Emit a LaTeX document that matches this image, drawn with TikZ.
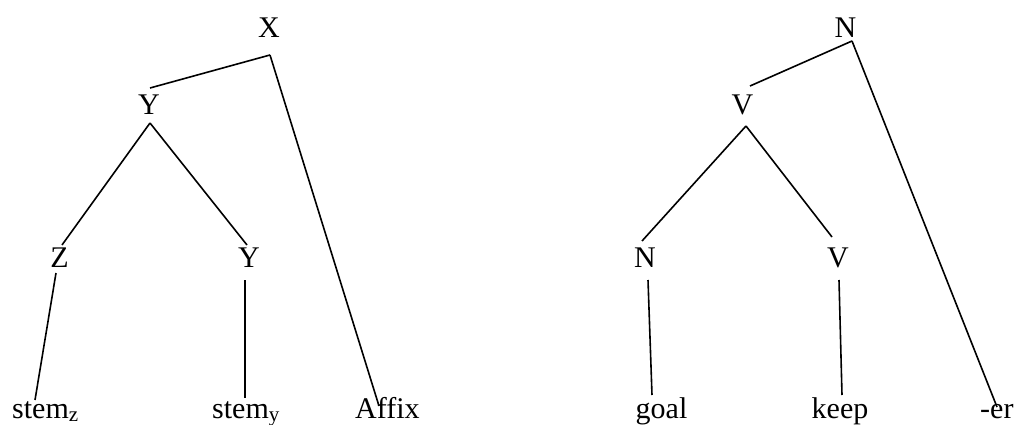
\documentclass[tikz,border=0pt]{standalone}
\usepackage{fontspec}
\setmainfont{Liberation Serif}
\usetikzlibrary{calc}
\begin{document}
\begin{tikzpicture}[x=1pt,y=-1pt,
  lbl/.style={inner sep=0pt,font=\fontsize{30}{32}\selectfont},
  edge/.style={line width=1.6pt,line cap=butt}]
\useasboundingbox (0,0) rectangle (1015,425);
% left tree
\node[lbl,anchor=base] (X) at (269,38) {X};
\node[lbl,anchor=base] (Y1) at (149,115) {Y};
\node[lbl,anchor=base] (Z) at (59.5,267) {Z};
\node[lbl,anchor=base] (Y2) at (249,267) {Y};
\node[lbl,anchor=base west] (sz) at (12,418) {stem\textsubscript{z}};
\node[lbl,anchor=base west] (sy) at (212,418) {stem\textsubscript{y}};
\node[lbl,anchor=base west] (af) at (355,418) {Affix};
% right tree
\node[lbl,anchor=base] (N) at (845.5,38) {N};
\node[lbl,anchor=base] (V) at (742.5,115) {V};
\node[lbl,anchor=base] (N2) at (645,267) {N};
\node[lbl,anchor=base] (V2) at (838,267) {V};
\node[lbl,anchor=base] (goal) at (661.5,418) {goal};
\node[lbl,anchor=base] (keep) at (840,418) {keep};
\node[lbl,anchor=base west] (er) at (980,418) {-er};
% connectors left
\draw[edge] ($(X.base)+(1,17)$) -- ($(Y1.base)+(1,-27)$);
\draw[edge] ($(X.base)+(1,17)$) -- ($(af.base west)+(24,-12)$);
\draw[edge] ($(Y1.base)+(1,8)$) -- ($(Z.base)+(2.5,-22)$);
\draw[edge] ($(Y1.base)+(1,8)$) -- ($(Y2.base)+(-2,-22)$);
\draw[edge] ($(Z.base)+(-3.5,6)$) -- ($(sz.base west)+(23,-18)$);
\draw[edge] ($(Y2.base)+(-4,13)$) -- ($(sy.base west)+(33,-20)$);
% connectors right
\draw[edge] ($(N.base)+(6.5,3)$) -- ($(V.base)+(7.5,-29)$);
\draw[edge] ($(N.base)+(6.5,3)$) -- ($(er.base west)+(17,-11)$);
\draw[edge] ($(V.base)+(3.5,11)$) -- ($(N2.base)+(-3,-26)$);
\draw[edge] ($(V.base)+(3.5,11)$) -- ($(V2.base)+(-6,-30)$);
\draw[edge] ($(N2.base)+(3,13)$) -- ($(goal.base)+(-9.5,-23)$);
\draw[edge] ($(V2.base)+(1,13)$) -- ($(keep.base)+(2,-23)$);
\end{tikzpicture}
\end{document}
